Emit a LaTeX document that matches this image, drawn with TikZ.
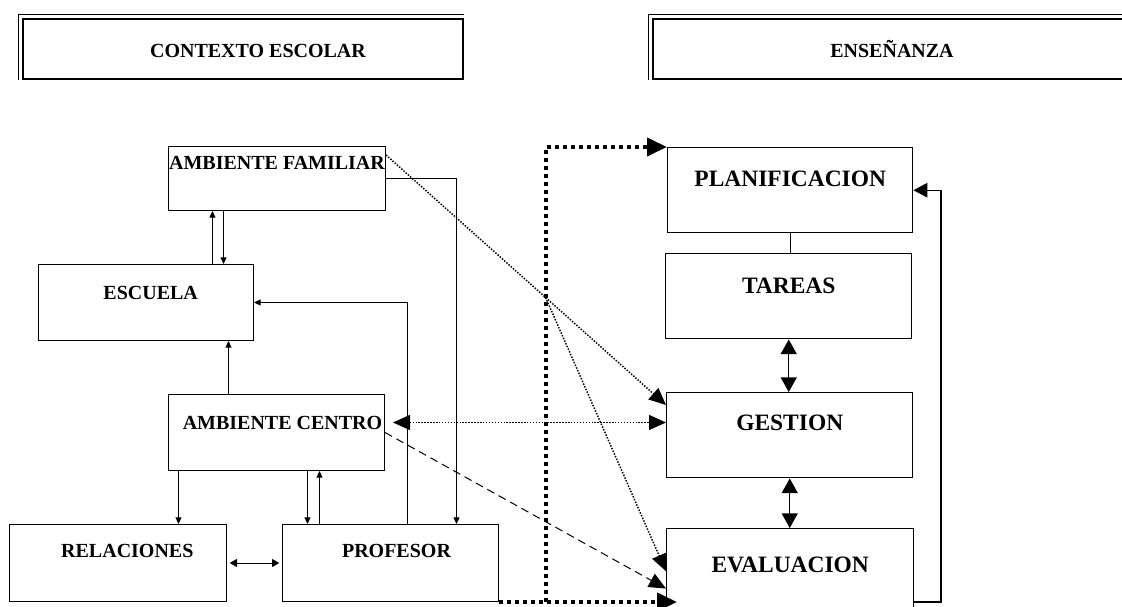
\documentclass[tikz,border=0pt]{standalone}
\usepackage{fontspec}
\setmainfont{Liberation Serif}
\usetikzlibrary{arrows.meta}

\begin{document}
\begin{tikzpicture}[x=0.75pt,y=-0.75pt,
    chico/.style={draw,line width=0.75pt,inner sep=0pt,anchor=north west,
        font=\fontsize{15}{18}\selectfont\bfseries},
    grande/.style={draw,line width=1.1pt,inner sep=0pt,anchor=north west,
        font=\fontsize{17.6}{21}\selectfont\bfseries},
    marco/.style={draw,line width=1.5pt,inner sep=0pt,anchor=north west},
    titulo/.style={anchor=base,font=\fontsize{15}{18}\selectfont\bfseries},
    fl/.style={line width=0.75pt,-{Triangle[length=5pt,width=4.5pt]}},
    fg/.style={line width=1pt,-{Triangle[length=10.5pt,width=11pt]}},
    dg/.style={line width=1pt,{Triangle[length=11pt,width=12pt]}-{Triangle[length=11pt,width=12pt]}},
    punteado/.style={line width=1.1pt,dash pattern=on 1.1pt off 1.1pt},
    pt/.style={-{Triangle[length=12.75pt,width=11.25pt]}},
    grueso/.style={line width=3pt,dash pattern=on 3pt off 3pt,
        -{Triangle[length=15pt,width=13.5pt]}}]
\useasboundingbox (0,0) rectangle (1122,607);

% cabeceras
\node[marco,minimum width=330pt,minimum height=45pt] (m1) at (22,18) {};
\draw[line width=0.75pt] ([xshift=-3pt]m1.south west) |- ([yshift=3pt]m1.north east);
\node[titulo] (ctx) at (258,57) {CONTEXTO ESCOLAR};
\node[marco,minimum width=360pt,minimum height=45pt] (m2) at (652,18) {};
\draw[line width=0.75pt] ([xshift=-3pt]m2.south west) |- ([yshift=3pt]m2.north east);
\node[titulo] (ens) at (892,57) {ENSEÑANZA};

% contexto escolar
\node[chico,minimum width=162.75pt,text height=17.6pt,text depth=30.4pt] (fam) at (168,146) {AMBIENTE FAMILIAR};
\node[chico,minimum width=161.25pt,text height=25.9pt,text depth=31.1pt] (esc) at (38,264) {\hspace*{7pt}ESCUELA};
\node[chico,minimum width=162pt,text height=25.9pt,text depth=31.1pt] (cen) at (168,394) {\hspace*{9pt}AMBIENTE CENTRO};
\node[chico,minimum width=162.75pt,text height=24.4pt,text depth=33.35pt] (rel) at (9,524) {\hspace*{14pt}RELACIONES};
\node[chico,minimum width=162pt,text height=24.4pt,text depth=33.35pt] (prof) at (282,524) {\hspace*{9pt}PROFESOR};

% ensenanza
\node[grande,minimum width=183.75pt,text height=29.25pt,text depth=34.5pt] (plan) at (667,147) {PLANIFICACION};
\node[grande,minimum width=184.5pt,text height=30pt,text depth=33.75pt] (tar) at (665,253) {TAREAS};
\node[grande,minimum width=184.5pt,text height=28.5pt,text depth=35.25pt] (ges) at (666,392) {GESTION};
\node[grande,minimum width=185.25pt,text height=33pt,text depth=30.75pt] (eva) at (666,528) {EVALUACION};

\path ([xshift=-48.4pt]fam.south) coordinate (f1)
      ([xshift=-40.1pt]fam.south) coordinate (f2)
      ([xshift=-36pt]cen.north) coordinate (c1)
      ([xshift=-73.5pt]cen.south) coordinate (c2)
      ([xshift=23.25pt]cen.south) coordinate (c3)
      ([xshift=32.25pt]cen.south) coordinate (c4)
      ([yshift=7.5pt]cen.east) coordinate (c5);
\coordinate (r) at (941,602);

\draw[fl] (f1 |- esc.north) -- (f1);
\draw[fl] (f2) -- (f2 |- esc.north);
\draw[fl] (fam.east) -| ([xshift=49.5pt]prof.north);
\draw[fl] ([xshift=12.75pt]prof.north) |- (esc.east);
\draw[fl] (c1) -- (c1 |- esc.south);
\draw[fl] (c2) -- (c2 |- rel.north);
\draw[fl] (c3) -- (c3 |- prof.north);
\draw[fl] (c4 |- prof.north) -- (c4);
\draw[line width=0.75pt,{Triangle[length=5.5pt,width=6pt]}-{Triangle[length=5.5pt,width=6pt]},
    shorten <=2pt,shorten >=2pt] (rel.east) -- (prof.west);

\draw[line width=1pt] (plan.south) -- (plan.south |- tar.north);
\draw[dg] (tar.south) -- (tar.south |- ges.north);
\draw[dg] (ges.south) -- (ges.south |- eva.north);
\draw[fg] (eva.east |- r) -- (r) |- (plan.east);

% punteadas
\draw[punteado,pt] ([yshift=-6.75pt]fam.north east) -- coordinate[pos=0.57] (cr) ([yshift=-9.75pt]ges.north west);
\draw[punteado,pt] (cr) -- (eva.west);
\draw[punteado,{Triangle[length=12.75pt,width=11.25pt]}-{Triangle[length=12.75pt,width=11.25pt]},
    shorten <=6pt] (c5) -- (c5 -| ges.west);
\draw[line width=0.75pt,dash pattern=on 6pt off 3.75pt,pt] (cen.east) -- ([yshift=-13pt]eva.west);

\draw[grueso] (prof.south east) -- (prof.south east -| eva.west) -- ++(8.25pt,0);
\draw[grueso] ([xshift=35.25pt]prof.south east) |- (plan.north west);
\end{tikzpicture}
\end{document}
